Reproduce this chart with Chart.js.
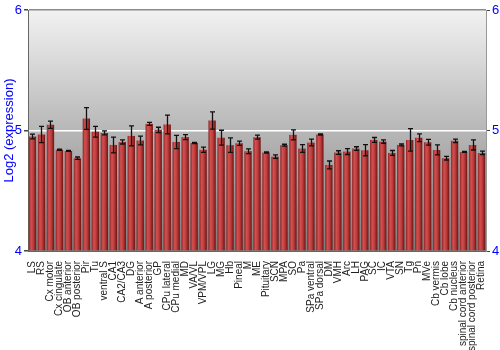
<!DOCTYPE html>
<html>
<head>
<meta charset="utf-8">
<script src="https://cdn.jsdelivr.net/npm/chart.js@4/dist/chart.umd.min.js"></script>
<style>
  body { margin: 0; background: #fff; }
  #wrap { width: 500px; height: 350px; position: relative; }
</style>
</head>
<body>
<div id="wrap"><canvas id="c"></canvas></div>
<script>
// 区域名称
const regions = ['LS', 'RS', 'Cx motor', 'Cx cingulate', 'OB anterior', 'OB posterior', 'Pir', 'Tu',
  'ventral S', 'CA1', 'CA2/CA3', 'DG', 'A anterior', 'A posterior', 'GP', 'CPu lateral', 'CPu medial',
  'MD', 'VA/VL', 'VPM/VPL', 'LG', 'MG', 'Hb', 'Pineal', 'M', 'ME', 'Pituitary', 'SCN', 'MPA', 'SO',
  'Pa', 'SPa ventral', 'SPa dorsal', 'DM', 'VMH', 'Arc', 'LH', 'PAG', 'SC', 'IC', 'VTA', 'SN', 'Tg',
  'Pn', 'MVe', 'Cb vermis', 'Cb lobe', 'Cb nucleus', 'spinal cord anterior', 'spinal cord posterior', 'Retina']

// 平均表达量 (log2)
const expression = [4.95, 4.967, 5.047, 4.84, 4.83, 4.77, 5.10, 4.99, 4.98, 4.88, 4.905, 4.955, 4.917,
  5.055, 5.005, 5.05, 4.905, 4.945, 4.897, 4.84, 5.083, 4.94, 4.878, 4.894, 4.828, 4.945, 4.817,
  4.783, 4.878, 4.964, 4.85, 4.9, 4.967, 4.714, 4.817, 4.825, 4.85, 4.836, 4.922, 4.908, 4.814,
  4.88, 4.922, 4.94, 4.903, 4.839, 4.77, 4.914, 4.822, 4.88, 4.814]

// 误差 (±)
const errors = [0.02, 0.067, 0.03, 0.005, 0.004, 0.01, 0.09, 0.045, 0.017, 0.065, 0.017, 0.083, 0.036,
  0.013, 0.022, 0.078, 0.055, 0.02, 0.005, 0.022, 0.072, 0.062, 0.06, 0.017, 0.02, 0.017, 0.005,
  0.014, 0.008, 0.042, 0.032, 0.028, 0.005, 0.033, 0.015, 0.024, 0.015, 0.046, 0.02, 0.014, 0.02,
  0.008, 0.093, 0.032, 0.024, 0.042, 0.015, 0.014, 0.004, 0.042, 0.015]

const yTicks = [4, 5, 6]
const BAR_PCT = 0.82
const FONT = 'Liberation Sans, Arial, sans-serif'

// 绘图区背景渐变
const plotBackground = {
  id: 'plotBackground',
  beforeDraw(chart) {
    const { ctx, chartArea: a } = chart
    const g = ctx.createLinearGradient(0, a.top, 0, a.bottom)
    g.addColorStop(0, '#f2f2f2')
    g.addColorStop(1, '#7c7c7c')
    ctx.save()
    ctx.fillStyle = g
    ctx.fillRect(a.left, a.top, a.right - a.left, a.bottom - a.top)
    ctx.restore()
  }
}

// 误差线
const errorBars = {
  id: 'errorBars',
  afterDatasetsDraw(chart) {
    const { ctx } = chart
    const meta = chart.getDatasetMeta(0)
    const y = chart.scales.y
    ctx.save()
    ctx.strokeStyle = '#111'
    ctx.lineWidth = 1.3
    meta.data.forEach((bar, i) => {
      const x = Math.round(bar.x) + 0.5
      const top = y.getPixelForValue(expression[i] + errors[i])
      const bot = y.getPixelForValue(expression[i] - errors[i])
      ctx.beginPath()
      ctx.moveTo(x, top); ctx.lineTo(x, bot)
      ctx.moveTo(x - 2.5, top); ctx.lineTo(x + 2.5, top)
      ctx.moveTo(x - 2.5, bot); ctx.lineTo(x + 2.5, bot)
      ctx.stroke()
    })
    ctx.restore()
  }
}

function barFill(c) {
  const chart = c.chart
  if (!chart.chartArea) return '#b83434'
  const xs = chart.scales.x
  const cx = xs.getPixelForValue(c.dataIndex)
  const w = xs.width / regions.length * BAR_PCT
  const g = chart.ctx.createLinearGradient(cx - w / 2, 0, cx + w / 2, 0)
  g.addColorStop(0, '#8e2424')
  g.addColorStop(0.3, '#d45050')
  g.addColorStop(0.6, '#bf3c3c')
  g.addColorStop(1, '#6a1414')
  return g
}

const yAxisBase = {
  type: 'linear',
  min: 4,
  max: 6,
  afterBuildTicks: s => { s.ticks = yTicks.map(v => ({ value: v })) },
  ticks: { color: '#0000ff', font: { family: FONT, size: 13 }, padding: 2 },
  border: { display: true, color: '#666' }
}

new Chart(document.getElementById('c'), {
  type: 'bar',
  data: {
    labels: regions,
    datasets: [{
      data: expression,
      base: 4,
      backgroundColor: barFill,
      borderWidth: 0,
      barPercentage: BAR_PCT,
      categoryPercentage: 1
    }]
  },
  options: {
    responsive: true,
    maintainAspectRatio: false,
    animation: false,
    layout: { padding: { top: 10 } },
    plugins: { legend: { display: false }, tooltip: { enabled: false } },
    scales: {
      x: {
        afterFit: s => { s.height = 99 },
        grid: { display: false },
        border: { display: true, color: '#666' },
        ticks: {
          autoSkip: false, minRotation: 90, maxRotation: 90, padding: 2,
          color: '#222', font: { family: FONT, size: 10 }
        }
      },
      y: {
        ...yAxisBase,
        position: 'left',
        afterFit: s => { s.width = 28 },
        grid: {
          tickLength: 4,
          tickColor: '#444',
          lineWidth: 1.5,
          color: c => c.tick.value === 5 ? '#ffffff' : (c.tick.value === 6 ? '#8a8a8a' : 'rgba(0,0,0,0)')
        },
        title: {
          display: true, text: 'Log2 (expression)', color: '#0000ff',
          font: { family: FONT, size: 13 }, padding: { top: 2, bottom: 0 }
        }
      },
      y2: {
        ...yAxisBase,
        position: 'right',
        afterFit: s => { s.width = 14 },
        border: { display: true, color: '#999' },
        grid: { drawOnChartArea: false, tickLength: 4, tickColor: '#444' }
      }
    }
  },
  plugins: [plotBackground, errorBars]
})
</script>
</body>
</html>
